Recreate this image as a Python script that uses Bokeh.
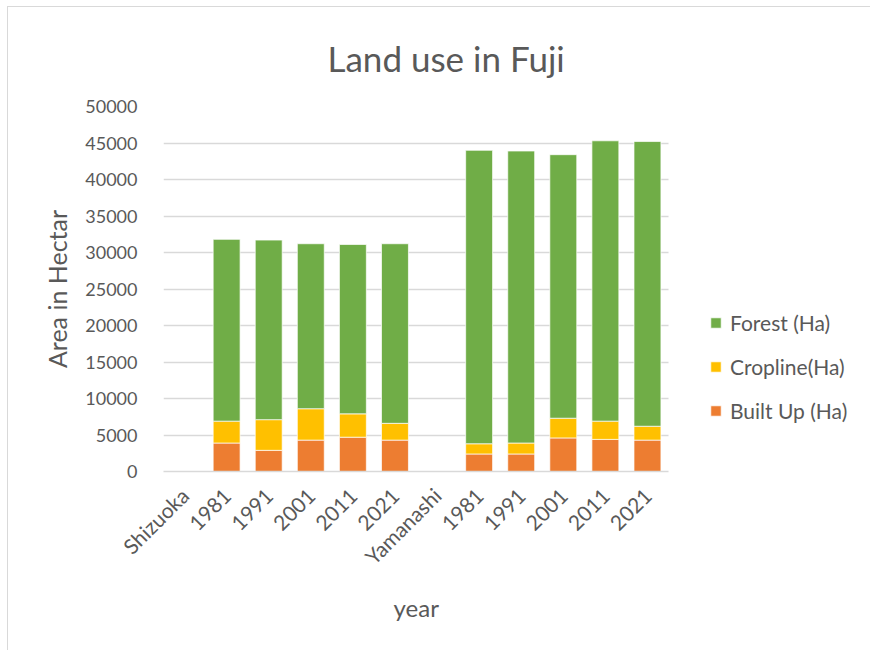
import math
from bokeh.plotting import figure
from bokeh.models import ColumnDataSource, FixedTicker, Legend, LegendItem, Range1d, Title
from bokeh.embed import file_html
from bokeh.resources import INLINE

# ---- data ----
tick_labels = ["Shizuoka", "1981", "1991", "2001", "2011", "2021",
               "Yamanashi", "1981", "1991", "2001", "2011", "2021"]
bar_slots = [1, 2, 3, 4, 5, 7, 8, 9, 10, 11]   # category index of each bar
built_up = [3900, 2900, 4300, 4700, 4300, 2400, 2400, 4600, 4400, 4300]
cropline = [3000, 4200, 4300, 3200, 2300, 1400, 1500, 2700, 2500, 1900]
forest = [24900, 24600, 22600, 23200, 24600, 40200, 40000, 36100, 38400, 39000]
series = ["built", "crop", "forest"]
series_names = ["Built Up (Ha)", "Cropline(Ha)", "Forest (Ha)"]
colors = ["#ED7D31", "#FFC000", "#70AD47"]

FONT = "Lato"
TXT = "#595959"

n_cat = len(tick_labels)
# frame is widened to the right to host the legend; bars keep 505px for 12 slots
W, H = 870, 650
left, right_b, top, bottom = 163, 8, 106, 179
slot_px = 505 / n_cat
x_end = (W - left - right_b) / slot_px

x_pos = [s + 0.5 for s in bar_slots]
src = ColumnDataSource(dict(x=x_pos, built=built_up, crop=cropline, forest=forest))

p = figure(width=W, height=H, output_backend="svg", toolbar_location=None,
           x_range=Range1d(0, x_end), y_range=Range1d(0, 50000),
           min_border_left=left, min_border_right=right_b, min_border_top=top,
           min_border_bottom=bottom, title=None)
p.border_fill_alpha = 0
p.styles = {"background": "linear-gradient(#d9d9d9,#d9d9d9) 7px 6px / 1px 100% no-repeat, "
                          "linear-gradient(#d9d9d9,#d9d9d9) 7px 6px / 100% 1px no-repeat, white"}

renderers = p.vbar_stack(series, x="x", width=0.64, source=src, color=colors,
                         line_color="white", line_width=0.7)

# title
t = Title(text="Land use in Fuji", align="left", offset=164, standoff=56,
          text_font=FONT, text_font_size="35px", text_font_style="normal",
          text_color=TXT)
p.add_layout(t, "above")

# axes
p.yaxis.ticker = FixedTicker(ticks=list(range(0, 50001, 5000)))
p.yaxis.axis_line_color = None
p.yaxis.major_tick_line_color = None
p.yaxis.minor_tick_line_color = None
p.yaxis.major_label_text_font = FONT
p.yaxis.major_label_text_font_size = "18px"
p.yaxis.major_label_text_color = TXT
p.yaxis.major_label_standoff = 20
p.yaxis.axis_label = "Area in Hectar"
p.yaxis.axis_label_text_font = FONT
p.yaxis.axis_label_text_font_size = "25px"
p.yaxis.axis_label_text_font_style = "normal"
p.yaxis.axis_label_text_color = TXT
p.yaxis.axis_label_standoff = 10

tick_pos = [i + 0.5 for i in range(n_cat)]
p.xaxis.ticker = FixedTicker(ticks=tick_pos)
p.xaxis.bounds = (0, n_cat)
p.xaxis.major_label_overrides = {tp: lab for tp, lab in zip(tick_pos, tick_labels)}
p.xaxis.major_label_orientation = math.pi / 4
p.xaxis.axis_line_color = "#d9d9d9"
p.xaxis.axis_line_width = 1.5
p.xaxis.major_tick_line_color = None
p.xaxis.minor_tick_line_color = None
p.xaxis.major_label_text_font = FONT
p.xaxis.major_label_text_font_size = "21px"
p.xaxis.major_label_text_color = TXT
p.xaxis.major_label_standoff = 14

xt = Title(text="year", align="left", offset=230, standoff=20,
           text_font=FONT, text_font_size="24px", text_font_style="normal",
           text_color=TXT)
p.add_layout(xt, "below")

p.xgrid.grid_line_color = None
p.ygrid.grid_line_color = "#d9d9d9"
p.ygrid.grid_line_width = 1.5
p.ygrid.cross_bounds = (0, n_cat)
p.outline_line_color = None

# legend (Forest on top)
items = [LegendItem(label=series_names[i], renderers=[renderers[i]]) for i in [2, 1, 0]]
legend = Legend(items=items, location=(546, 48))
legend.border_line_color = None
legend.background_fill_alpha = 0
legend.padding = 0
legend.margin = 0
legend.label_text_font = FONT
legend.label_text_font_size = "21px"
legend.label_text_color = TXT
legend.glyph_width = 13
legend.glyph_height = 13
legend.label_height = 13
legend.spacing = 19
legend.label_standoff = 8
p.add_layout(legend, "center")

open("out.html", "w").write(file_html(p, INLINE))
